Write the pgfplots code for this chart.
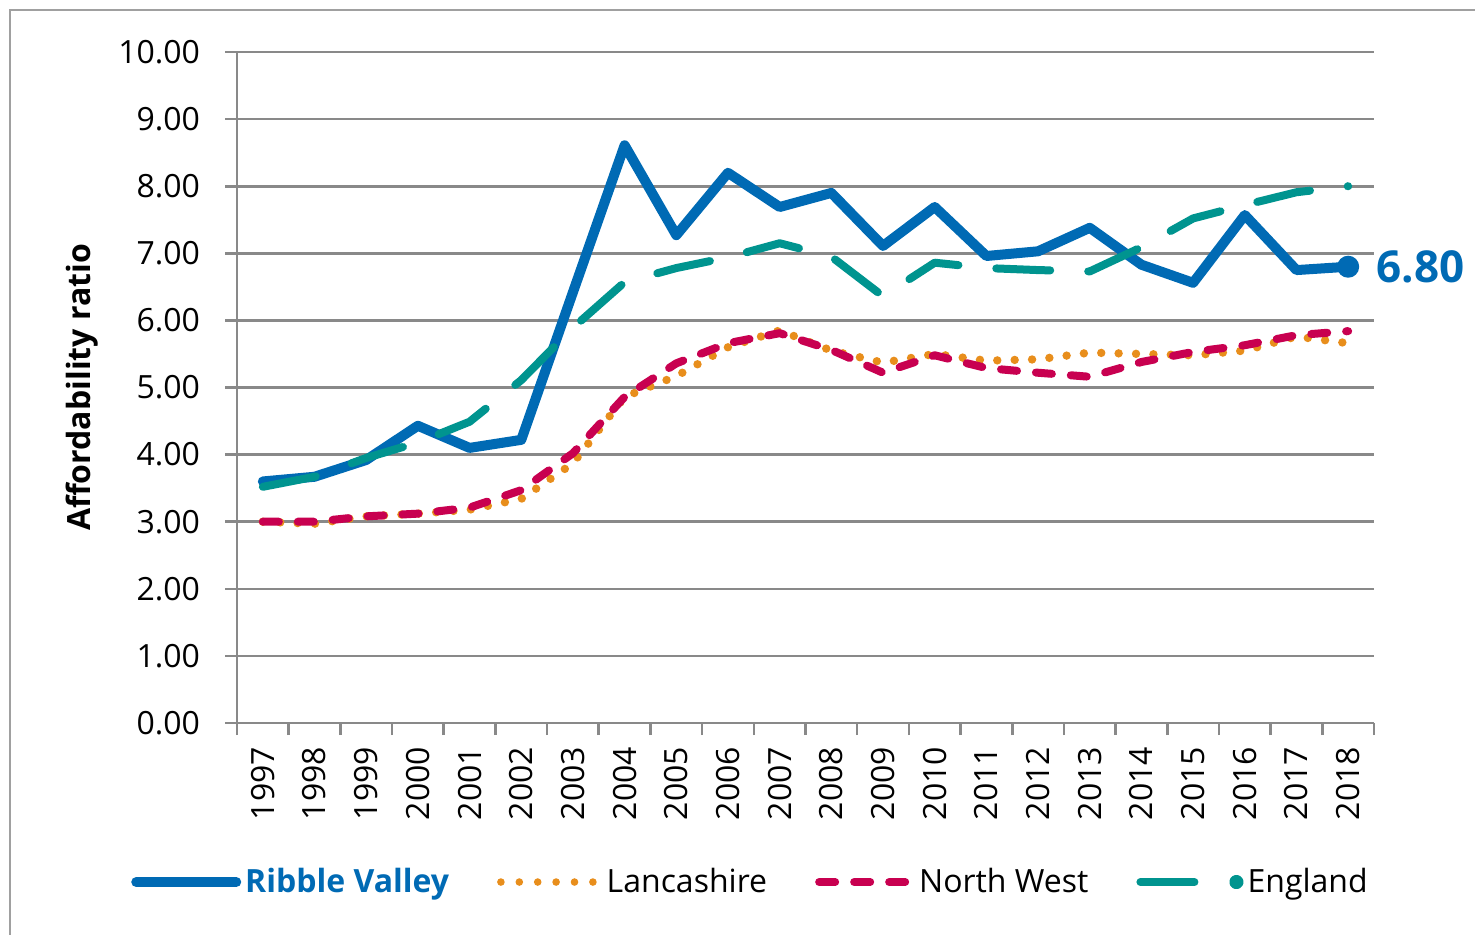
\documentclass[border=0pt]{standalone}
\usepackage{fontspec}
\setmainfont{Open Sans}
\usepackage{pgfplots}
\pgfplotsset{compat=1.18}
\definecolor{rvblue}{RGB}{0,106,180}
\definecolor{lancorange}{RGB}{232,142,28}
\definecolor{nwred}{RGB}{200,0,80}
\definecolor{engteal}{RGB}{0,148,143}
\definecolor{gridgray}{RGB}{137,137,137}
\definecolor{framegray}{RGB}{160,160,160}
\begin{document}
\begin{tikzpicture}
\useasboundingbox (0,0) rectangle (737.5pt,467pt);
\draw[line width=1pt, framegray] (5pt,-20pt) -- (5pt,462pt) -- (780pt,462pt);
\begin{axis}[
  at={(118.5pt,105.5pt)}, anchor=south west,
  width=568.5pt, height=335.5pt, scale only axis,
  xmin=1996.5, xmax=2018.5, ymin=0, ymax=10,
  clip=false,
  axis x line*=bottom, axis y line*=left,
  axis line style={gridgray, line width=1.3pt},
  ytick={0,1,...,10},
  ymajorgrids, grid style={gridgray, line width=1.3pt},
  tick style={gridgray, line width=1.3pt},
  tick align=outside, major tick length=6pt,
  /pgf/number format/assume math mode=true,
  yticklabel style={font=\fontsize{16}{19}\selectfont, xshift=-9pt, /pgf/number format/fixed, /pgf/number format/fixed zerofill, /pgf/number format/precision=2},
  xtick={1996.5,1997.5,1998.5,1999.5,2000.5,2001.5,2002.5,2003.5,2004.5,2005.5,2006.5,2007.5,2008.5,2009.5,2010.5,2011.5,2012.5,2013.5,2014.5,2015.5,2016.5,2017.5,2018.5},
  xticklabels={},
  extra x ticks={1997,1998,1999,2000,2001,2002,2003,2004,2005,2006,2007,2008,2009,2010,2011,2012,2013,2014,2015,2016,2017,2018},
  extra x tick labels={1997,1998,1999,2000,2001,2002,2003,2004,2005,2006,2007,2008,2009,2010,2011,2012,2013,2014,2015,2016,2017,2018},
  extra x tick style={major tick length=0pt, tick style={draw=none}},
  xticklabel style={rotate=90, anchor=east, font=\fontsize{16}{19}\selectfont, xshift=-8.5pt},
  ylabel={\textbf{Affordability ratio}},
  ylabel style={at={(axis description cs:-0.136,0.5)}, anchor=center, font=\fontsize{16}{19}\selectfont},
  legend columns=4,
  legend style={draw=none, fill=none, at={(axis description cs:0.4525,-0.237)}, anchor=center,
    font=\fontsize{16}{19}\selectfont,
    /tikz/every even column/.append style={column sep=22pt}},
  legend cell align=left,
]
\addplot[rvblue, line width=5pt, line join=round, line cap=round, mark=*, mark indices={22}, mark size=5pt,
  mark options={solid, line width=1pt, fill=rvblue},
  legend image code/.code={\draw[rvblue, line width=5pt] (0pt,0pt) -- (50pt,0pt);}]
table {
x y
1997 3.60
1998 3.67
1999 3.92
2000 4.43
2001 4.10
2002 4.22
2003 6.42
2004 8.61
2005 7.27
2006 8.20
2007 7.69
2008 7.90
2009 7.11
2010 7.69
2011 6.96
2012 7.03
2013 7.38
2014 6.83
2015 6.56
2016 7.57
2017 6.75
2018 6.80
};
\addlegendentry{\textcolor{rvblue}{\textbf{Ribble Valley}}}
\addplot[lancorange, line width=4.2pt, line cap=round, line join=round, dash pattern=on 0pt off 8.7pt,
  legend image code/.code={\draw[lancorange, line width=3.8pt, line cap=round, dash pattern=on 0pt off 9.2pt] (1pt,0pt) -- (50pt,0pt);}]
table {
x y
1997 3.00
1998 2.97
1999 3.08
2000 3.12
2001 3.18
2002 3.34
2003 3.87
2004 4.86
2005 5.17
2006 5.60
2007 5.85
2008 5.55
2009 5.37
2010 5.50
2011 5.40
2012 5.42
2013 5.52
2014 5.50
2015 5.48
2016 5.55
2017 5.76
2018 5.66
};
\addlegendentry{Lancashire}
\addplot[nwred, line width=4pt, line cap=round, line join=round, dash pattern=on 8pt off 9.5pt,
  legend image code/.code={\draw[nwred, line width=4pt, line cap=round, dash pattern=on 8pt off 9.5pt] (2pt,0pt) -- (48pt,0pt);}]
table {
x y
1997 3.00
1998 3.00
1999 3.08
2000 3.12
2001 3.21
2002 3.47
2003 4.02
2004 4.86
2005 5.36
2006 5.66
2007 5.81
2008 5.56
2009 5.22
2010 5.48
2011 5.29
2012 5.22
2013 5.16
2014 5.38
2015 5.53
2016 5.63
2017 5.78
2018 5.84
};
\addlegendentry{North West}
\addplot[engteal, line width=4pt, line cap=round, line join=round, dash pattern=on 27pt off 19pt,
  legend image code/.code={\draw[engteal, line width=4pt, line cap=round] (2pt,0pt) -- (32pt,0pt); \fill[engteal] (50pt,0pt) circle (1.6pt);}]
table {
x y
1997 3.52
1998 3.67
1999 3.95
2000 4.18
2001 4.49
2002 5.11
2003 5.89
2004 6.57
2005 6.78
2006 6.94
2007 7.15
2008 6.95
2009 6.36
2010 6.86
2011 6.78
2012 6.75
2013 6.73
2014 7.09
2015 7.52
2016 7.72
2017 7.91
2018 8.00
};
\addlegendentry{England}
\node[anchor=west, inner sep=0pt, xshift=14pt, text=rvblue, font=\fontsize{22}{26}\selectfont\bfseries] at (axis cs:2018,6.80) {6.80};
\end{axis}
\end{tikzpicture}
\end{document}
